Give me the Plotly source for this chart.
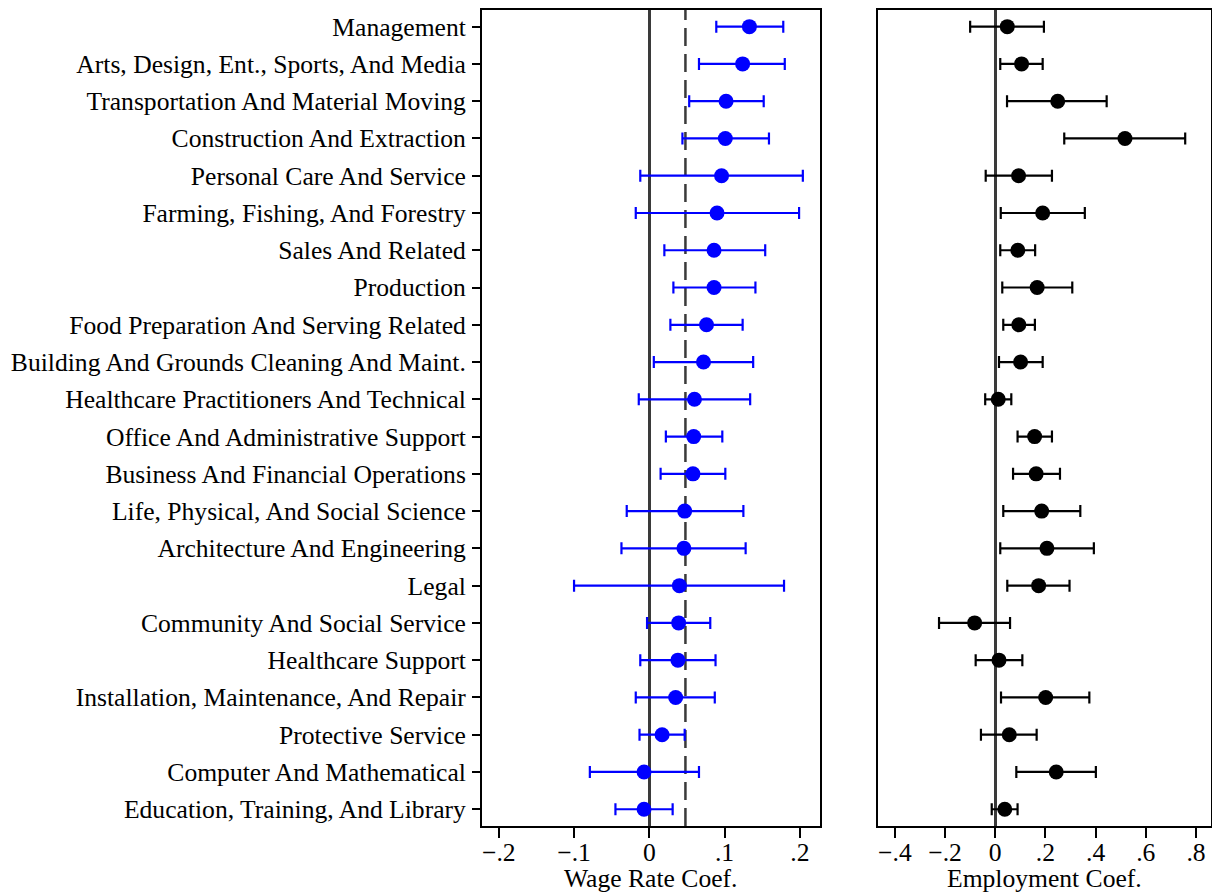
import plotly.graph_objects as go

categories = [
    "Management",
    "Arts, Design, Ent., Sports, And Media",
    "Transportation And Material Moving",
    "Construction And Extraction",
    "Personal Care And Service",
    "Farming, Fishing, And Forestry",
    "Sales And Related",
    "Production",
    "Food Preparation And Serving Related",
    "Building And Grounds Cleaning And Maint.",
    "Healthcare Practitioners And Technical",
    "Office And Administrative Support",
    "Business And Financial Operations",
    "Life, Physical, And Social Science",
    "Architecture And Engineering",
    "Legal",
    "Community And Social Service",
    "Healthcare Support",
    "Installation, Maintenance, And Repair",
    "Protective Service",
    "Computer And Mathematical",
    "Education, Training, And Library",
]

wage_coef = [0.133, 0.124, 0.102, 0.101, 0.096, 0.090, 0.086, 0.086, 0.076, 0.072, 0.060,
             0.059, 0.058, 0.047, 0.046, 0.040, 0.039, 0.038, 0.035, 0.017, -0.007, -0.007]
wage_lo = [0.089, 0.066, 0.053, 0.044, -0.012, -0.018, 0.020, 0.032, 0.028, 0.006, -0.014,
           0.022, 0.015, -0.030, -0.037, -0.100, -0.003, -0.012, -0.018, -0.013, -0.079, -0.045]
wage_hi = [0.178, 0.180, 0.152, 0.159, 0.204, 0.199, 0.154, 0.141, 0.124, 0.138, 0.134,
           0.097, 0.101, 0.125, 0.128, 0.179, 0.081, 0.088, 0.087, 0.047, 0.066, 0.031]

emp_coef = [0.048, 0.105, 0.249, 0.517, 0.093, 0.189, 0.090, 0.167, 0.094, 0.101, 0.012,
            0.157, 0.163, 0.185, 0.206, 0.173, -0.082, 0.015, 0.201, 0.056, 0.243, 0.038]
emp_lo = [-0.100, 0.020, 0.047, 0.275, -0.038, 0.022, 0.020, 0.028, 0.032, 0.015, -0.040,
          0.089, 0.071, 0.032, 0.020, 0.048, -0.224, -0.078, 0.023, -0.057, 0.084, -0.014]
emp_hi = [0.194, 0.189, 0.444, 0.757, 0.226, 0.357, 0.159, 0.307, 0.158, 0.189, 0.064,
          0.226, 0.258, 0.339, 0.393, 0.296, 0.059, 0.108, 0.375, 0.165, 0.401, 0.089]

wage_ref_line = 0.048

wage_ticks = [-0.2, -0.1, 0, 0.1, 0.2]
wage_ticktext = ["\u2212.2", "\u2212.1", "0", ".1", ".2"]
emp_ticks = [-0.4, -0.2, 0, 0.2, 0.4, 0.6, 0.8]
emp_ticktext = ["\u2212.4", "\u2212.2", "0", ".2", ".4", ".6", ".8"]

wage_title = "Wage Rate Coef."
emp_title = "Employment Coef."

FONT = "Liberation Serif, Times New Roman, serif"
FS = 25.6

fig = go.Figure()

fig.add_trace(go.Scatter(
    x=wage_coef, y=categories, mode="markers", xaxis="x", yaxis="y",
    marker=dict(color="#0000ff", size=15),
    error_x=dict(type="data", symmetric=False,
                 array=[h - c for h, c in zip(wage_hi, wage_coef)],
                 arrayminus=[c - l for c, l in zip(wage_coef, wage_lo)],
                 color="#0000ff", thickness=2.2, width=6),
    showlegend=False,
))

fig.add_trace(go.Scatter(
    x=emp_coef, y=categories, mode="markers", xaxis="x2", yaxis="y2",
    marker=dict(color="#000000", size=15),
    error_x=dict(type="data", symmetric=False,
                 array=[h - c for h, c in zip(emp_hi, emp_coef)],
                 arrayminus=[c - l for c, l in zip(emp_coef, emp_lo)],
                 color="#000000", thickness=2.2, width=6),
    showlegend=False,
))

W, H = 1212, 895
B = 69
yrange = [len(categories) - 1 + 0.45, -0.447]
x1dom = [482 / W, 819.7 / W]
x2dom = [878.3 / W, 1210.8 / W]

common_x = dict(showgrid=False, zeroline=True, zerolinecolor="#3a3a3a", zerolinewidth=2.5,
                showline=True, mirror=True, linecolor="black", linewidth=2,
                ticks="outside", ticklen=10, tickwidth=1.8, tickcolor="black",
                ticklabelstandoff=-8,
                tickfont=dict(family=FONT, size=FS, color="black"))

fig.update_layout(
    width=W, height=H,
    margin=dict(l=0, r=0, t=10, b=B),
    paper_bgcolor="white", plot_bgcolor="white",
    font=dict(family=FONT, size=FS, color="black"),
    xaxis=dict(domain=x1dom, range=[-0.2223, 0.2264],
               tickvals=wage_ticks, ticktext=wage_ticktext,
               anchor="y", **common_x),
    xaxis2=dict(domain=x2dom, range=[-0.466, 0.859],
                tickvals=emp_ticks, ticktext=emp_ticktext,
                anchor="y2", **common_x),
    yaxis=dict(type="category", categoryorder="array", categoryarray=categories,
               range=yrange, showgrid=False, zeroline=False,
               showline=True, mirror=True, linecolor="black", linewidth=2,
               ticks="outside", ticklen=8, tickwidth=1.8, tickcolor="black",
               ticklabelstandoff=1,
               tickfont=dict(family=FONT, size=FS, color="black"), anchor="x"),
    yaxis2=dict(type="category", categoryorder="array", categoryarray=categories,
                range=yrange, showgrid=False, zeroline=False,
                showline=True, mirror=True, linecolor="black", linewidth=2,
                ticks="", showticklabels=False, anchor="x2", matches="y"),
    shapes=[dict(type="line", xref="x", yref="y domain", x0=wage_ref_line, x1=wage_ref_line,
                 y0=0, y1=1, line=dict(color="#3a3a3a", width=2.5, dash="18px,8px"), layer="below")],
    annotations=[
        dict(text=wage_title, xref="paper", yref="paper", x=sum(x1dom) / 2, y=0,
             xanchor="center", yanchor="bottom", yshift=-B, showarrow=False,
             font=dict(family=FONT, size=FS, color="black")),
        dict(text=emp_title, xref="paper", yref="paper", x=sum(x2dom) / 2, y=0,
             xanchor="center", yanchor="bottom", yshift=-B, showarrow=False,
             font=dict(family=FONT, size=FS, color="black")),
    ],
)

fig.write_html("out.html")
